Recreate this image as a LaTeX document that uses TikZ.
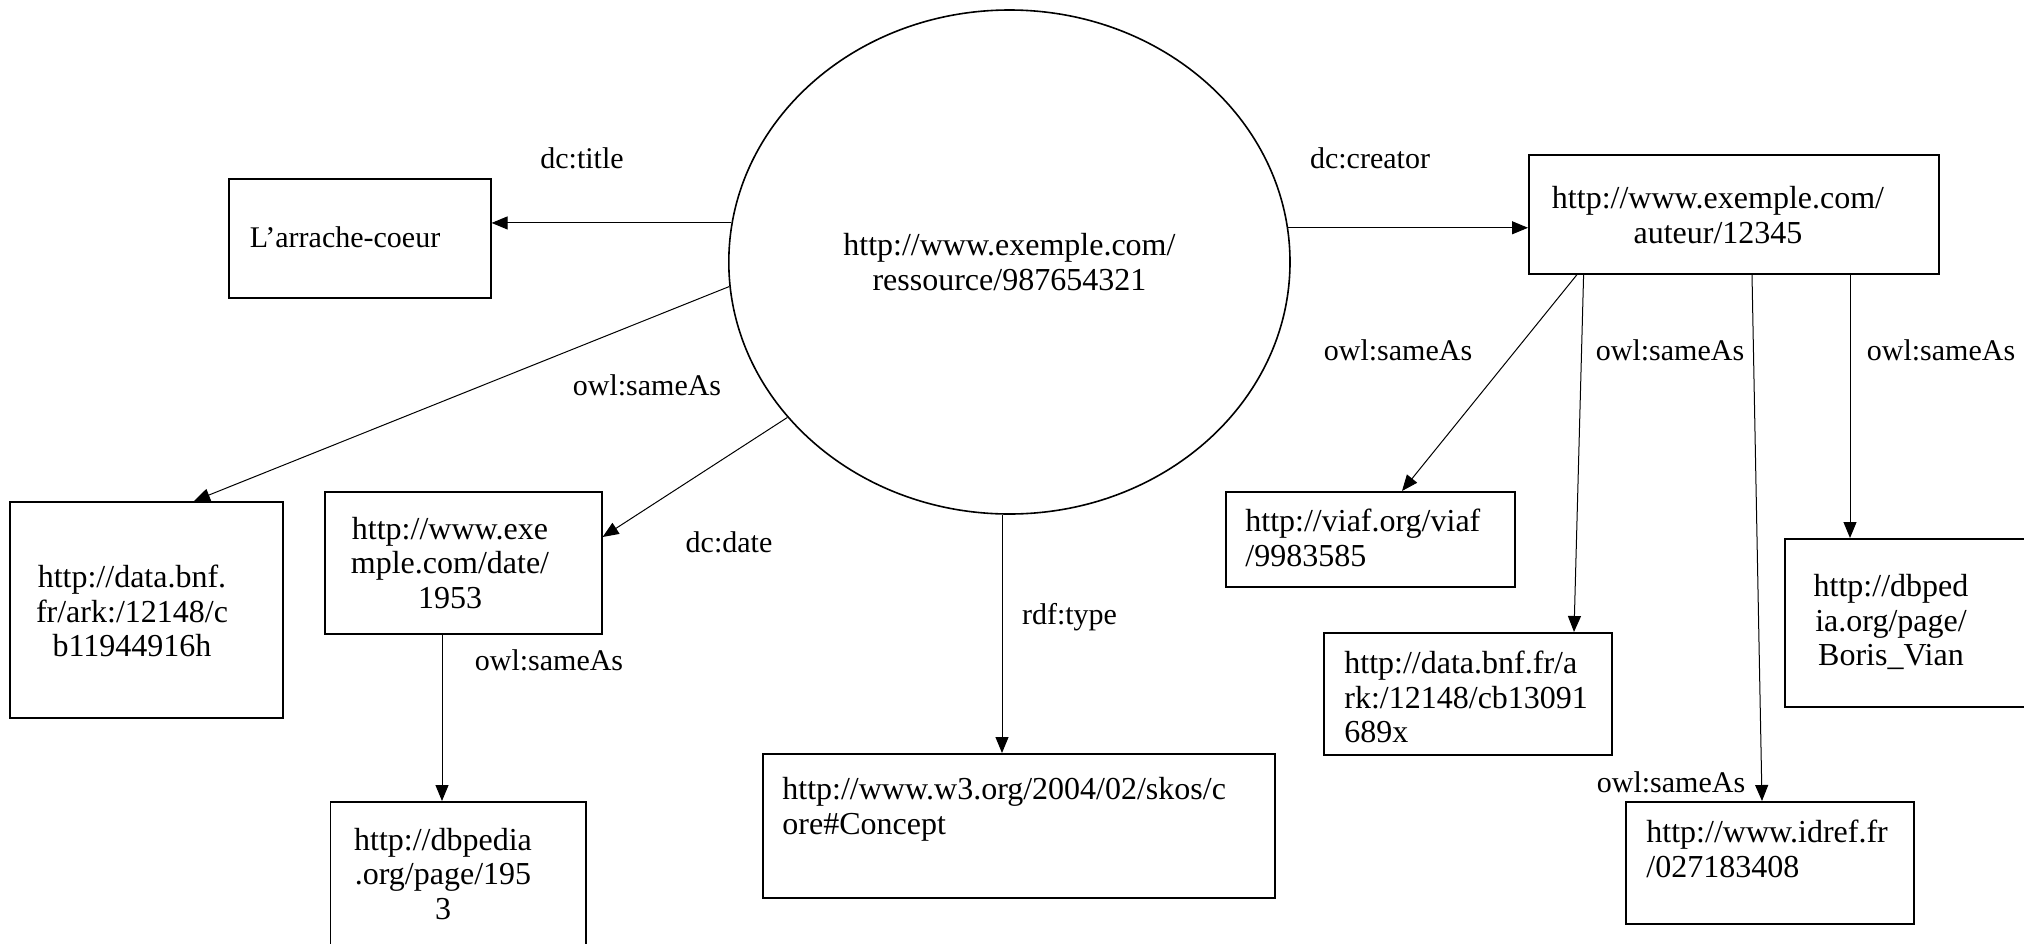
\documentclass[tikz,border=0pt]{standalone}
\usepackage{fontspec}
\setmainfont{Liberation Serif}
\usetikzlibrary{arrows.meta,calc,shapes.geometric}
\begin{document}
\begin{tikzpicture}[x=0.5pt,y=-0.5pt,
  box/.style={draw,line width=0.8pt,anchor=north west,inner sep=0pt},
  uri/.style={font=\fontsize{16}{17.3}\selectfont,inner sep=0pt},
  prop/.style={font=\fontsize{15}{17}\selectfont,inner sep=0pt,anchor=base},
  arr/.style={-{Triangle[length=8pt,width=6.5pt]},line width=0.5pt}]
\useasboundingbox (0,0) rectangle (2024,943);

% central resource
\node[ellipse,draw,line width=0.8pt,minimum width=280.6pt,minimum height=252pt,
      inner sep=0pt,align=center,uri] (res) at (1009.4,262)
      {http://www.exemple.com/\\ressource/987654321};

% boxes
\node[box,minimum width=131pt,minimum height=59.5pt] (title) at (228,178) {};
\node[box,minimum width=205pt,minimum height=59.5pt] (auteur) at (1528,154) {};
\node[box,minimum width=136.5pt,minimum height=108pt] (bnfA) at (9,501) {};
\node[box,minimum width=138.5pt,minimum height=71pt] (date) at (324,491) {};
\node[box,minimum width=127.75pt,minimum height=79.5pt] (dbp) at (329.5,801) {};
\node[box,minimum width=256pt,minimum height=72pt] (skos) at (762,753) {};
\node[box,minimum width=144.5pt,minimum height=47.5pt] (viaf) at (1225,491) {};
\node[box,minimum width=144pt,minimum height=61pt] (bnfB) at (1323,632) {};
\node[box,minimum width=144pt,minimum height=61pt] (idref) at (1625,801) {};
\node[box,minimum width=128pt,minimum height=84pt] (boris) at (1784,538) {};

% box texts
\node[font=\fontsize{15}{17}\selectfont,inner sep=0pt] (tTitle) at (345,237) {L’arrache-coeur};
\node[uri,align=center] (tAuteur) at (1718,215) {http://www.exemple.com/\\auteur/12345};
\node[uri,align=center] (tBnfA) at (132,611) {http://data.bnf.\\fr/ark:/12148/c\\b11944916h};
\node[uri,align=center] (tDate) at (450,563) {http://www.exe\\mple.com/date/\\1953};
\node[uri,align=center] (tDbp) at (443,874) {http://dbpedia\\.org/page/195\\3};
\node[uri,align=left,anchor=west] (tSkos) at (782,809) {http://www.w3.org/2004/02/skos/c\\ore\#Concept};
\node[uri,align=left,anchor=west] (tViaf) at (1245,538) {http://viaf.org/viaf\\/9983585};
\node[uri,align=left,anchor=west] (tBnfB) at (1344,697) {http://data.bnf.fr/a\\rk:/12148/cb13091\\689x};
\node[uri,align=left,anchor=west] (tIdref) at (1646,849) {http://www.idref.fr\\/027183408};
\node[uri,align=center] (tBoris) at (1891,622) {http://dbped\\ia.org/page/\\Boris\_Vian};

% property labels
\node[prop] (lTitle) at (582,168.3) {dc:title};
\node[prop] (lSameA) at (647,395) {owl:sameAs};
\node[prop] (lDate) at (729,552.7) {dc:date};
\node[prop] (lType) at (1069.5,624.3) {rdf:type};
\node[prop] (lSameD) at (549,670.7) {owl:sameAs};
\node[prop] (lCreator) at (1370,168.3) {dc:creator};
\node[prop] (lSameV) at (1398,360) {owl:sameAs};
\node[prop] (lSameB) at (1670,360) {owl:sameAs};
\node[prop] (lSameP) at (1941,360) {owl:sameAs};
\node[prop] (lSameI) at (1671,792.7) {owl:sameAs};

% connector end points
\coordinate (skosIn) at ($(skos.north west)+(240,0)$);
\coordinate (dbpIn) at ($(dbp.north west)+(112.5,0)$);
\coordinate (borisIn) at ($(boris.north west)+(66,0)$);

% connectors from the resource
\draw[arr] (res.172.6) -- (title.east |- res.172.6);
\draw[arr] (res.7.4) -- (auteur.west |- res.7.4);
\draw[arr] (res.185) -- ($(bnfA.north west)+(185,0)$);
\draw[arr] (res.215.8) -- ($(date.north east)+(0,46)$);
\draw[arr] (res.south -| skosIn) -- (skosIn);

% date link
\draw[arr] (date.south -| dbpIn) -- (dbpIn);

% author links
\draw[arr] ($(auteur.south west)+(49,0)$) -- ($(viaf.north west)+(177,0)$);
\draw[arr] ($(auteur.south west)+(55.6,0)$) -- ($(bnfB.north west)+(251,0)$);
\draw[arr] ($(auteur.south west)+(224,0)$) -- ($(idref.north west)+(137,0)$);
\draw[arr] (auteur.south -| borisIn) -- (borisIn);
\end{tikzpicture}
\end{document}
